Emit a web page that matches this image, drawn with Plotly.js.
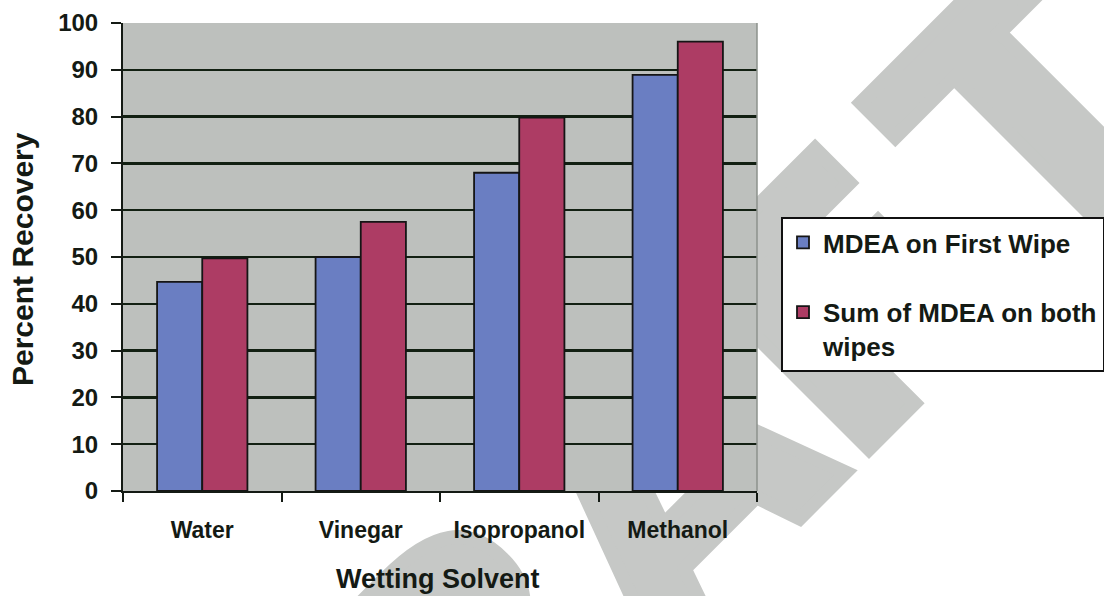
<!DOCTYPE html>
<html>
<head>
<meta charset="utf-8">
<script src="https://cdn.plot.ly/plotly-3.0.1.min.js"></script>
<style>
  html, body { margin: 0; padding: 0; background: #ffffff; }
  #stage { position: relative; width: 1104px; height: 596px; overflow: hidden; }
  #stamp { position: absolute; left: 0; top: 0; }
  #chart { position: absolute; left: 0; top: 0; width: 1104px; height: 596px; }
</style>
</head>
<body>
<div id="stage">
  <!-- large diagonal "DRAFT" stamp sitting behind the chart -->
  <svg id="stamp" width="1104" height="596">
    <text transform="translate(899,429) rotate(-45)"
          x="-884 -598 -333 -67 202" y="-7"
          font-family="DejaVu Sans" font-weight="bold" font-size="344"
          fill="#c6c8c6" stroke="#c6c8c6" stroke-width="14" stroke-linejoin="miter">DRAFT</text>
  </svg>
  <div id="chart"></div>
</div>
<script>
// Percent of MDEA recovered for each wetting solvent
const solvents   = ['Water', 'Vinegar', 'Isopropanol', 'Methanol'];
const firstWipe  = [44.7, 50.0, 68.0, 88.9];
const bothWipes  = [49.7, 57.5, 79.8, 96.0];
const seriesNames = ['MDEA on First Wipe', 'Sum of MDEA on both<br>wipes'];
const yTickVals  = [0, 10, 20, 30, 40, 50, 60, 70, 80, 90, 100];
const xTitle = 'Wetting Solvent';
const yTitle = 'Percent Recovery';

const ink = '#141a14';
const fontFamily = '"Liberation Sans", Arial, Helvetica, sans-serif';

const W = 1104, H = 596;
const M = { l: 123, r: 347, t: 23, b: 105 };
const plotW = W - M.l - M.r, plotH = H - M.t - M.b;
// pixel position -> paper fraction
const px = v => (v - M.l) / plotW;
const py = v => (H - M.b - v) / plotH;

const data = [
  {
    type: 'bar', name: seriesNames[0], x: solvents, y: firstWipe,
    legendgroup: 'g1',
    marker: { color: '#6a7ec2', line: { color: '#151515', width: 1.8 } }
  },
  {
    type: 'bar', name: seriesNames[1], x: solvents, y: bothWipes,
    legendgroup: 'g2',
    marker: { color: '#ad3c64', line: { color: '#151515', width: 1.8 } }
  }
];

const layout = {
  width: W, height: H,
  margin: { l: M.l, r: M.r, t: M.t, b: M.b, pad: 0, autoexpand: false },
  paper_bgcolor: 'rgba(0,0,0,0)',
  plot_bgcolor: '#bdc0bd',
  barmode: 'group', bargap: 0.43, bargroupgap: 0,
  font: { family: fontFamily, color: ink, weight: 'bold' },
  showlegend: true,
  legend: {
    x: px(781), y: py(217), xanchor: 'left', yanchor: 'top',
    bgcolor: '#ffffff', bordercolor: '#111111', borderwidth: 2,
    font: { family: fontFamily, size: 26, color: ink, weight: 'bold' },
    traceorder: 'grouped', tracegroupgap: 33, valign: 'top'
  },
  xaxis: {
    type: 'category', tickson: 'boundaries',
    ticks: 'outside', ticklen: 9, tickwidth: 2, tickcolor: ink,
    showline: true, linecolor: ink, linewidth: 2,
    showgrid: false, zeroline: false,
    ticklabelstandoff: 17,
    automargin: false,
    tickfont: { family: fontFamily, size: 23, color: ink, weight: 'bold' }
  },
  yaxis: {
    range: [0, 100], tickvals: yTickVals, ticktext: yTickVals.map(String),
    ticks: 'outside', ticklen: 10, tickwidth: 2, tickcolor: ink,
    showline: true, linecolor: ink, linewidth: 2,
    showgrid: true, gridcolor: '#122012', gridwidth: 2.5, zeroline: false,
    ticklabelstandoff: 8,
    automargin: false,
    tickfont: { family: fontFamily, size: 24, color: ink, weight: 'bold' }
  },
  annotations: [
    { text: xTitle, xref: 'paper', yref: 'paper', x: px(438), y: py(579),
      xanchor: 'center', yanchor: 'middle', showarrow: false,
      font: { family: fontFamily, size: 27, color: ink, weight: 'bold' } },
    { text: yTitle, xref: 'paper', yref: 'paper', x: px(22), y: py(259),
      xanchor: 'center', yanchor: 'middle', showarrow: false, textangle: -90,
      font: { family: fontFamily, size: 30, color: ink, weight: 'bold' } }
  ],
  shapes: [
    { type: 'line', xref: 'paper', yref: 'paper', x0: 1, x1: 1, y0: 0, y1: 1,
      line: { color: '#8d928d', width: 1.5 }, layer: 'above' }
  ]
};

Plotly.newPlot('chart', data, layout, { staticPlot: true, displayModeBar: false }).then(function (gd) {
  // larger square legend swatches
  gd.querySelectorAll('.legendpoints path.legendbar').forEach(function (p) {
    p.setAttribute('d', 'M8.5,8.5H-8.5V-8.5H8.5Z');
  });
});
</script>
</body>
</html>
